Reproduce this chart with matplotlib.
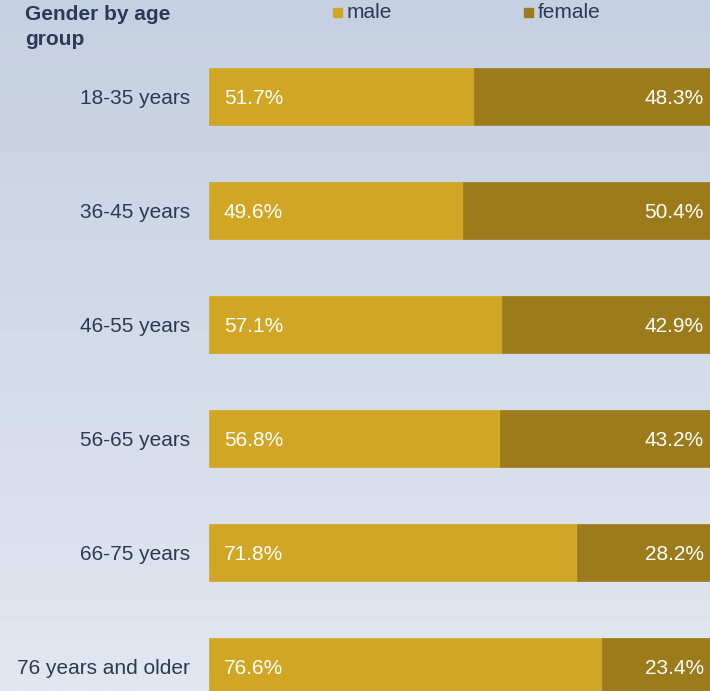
import matplotlib.pyplot as plt
import numpy as np
from matplotlib.patches import Rectangle

plt.rcParams["font.family"] = ["Liberation Sans", "DejaVu Sans"]

groups = ["18-35 years", "36-45 years", "46-55 years", "56-65 years",
          "66-75 years", "76 years and older"]
male = [51.7, 49.6, 57.1, 56.8, 71.8, 76.6]
female = [48.3, 50.4, 42.9, 43.2, 28.2, 23.4]

c_male = "#D0A624"
c_female = "#9C7B1B"
c_text = "#2B3A55"
fs = 15

W, H = 710, 691
fig = plt.figure(figsize=(W / 100, H / 100), dpi=100)

# soft vertical gradient behind everything
bg = fig.add_axes([0, 0, 1, 1], zorder=-10)
top = np.array([0xC5, 0xD0, 0xE2]) / 255
bot = np.array([0xE2, 0xE7, 0xF0]) / 255
t = np.linspace(0, 1, 256)[:, None]
grad = top * (1 - t)[..., None] + bot * t[..., None]
bg.imshow(grad, aspect="auto", extent=[0, 1, 0, 1])
bg.axis("off")

# bar area (runs slightly past the right edge)
ax = fig.add_axes([209 / W, 0, 513 / W, (H - 39.5) / H])
ax.set_facecolor("none")
y = np.arange(len(groups))
ax.barh(y, male, height=0.5, color=c_male, edgecolor=c_male, lw=0.5)
ax.barh(y, female, left=male, height=0.5, color=c_female, edgecolor=c_female, lw=0.5)
ax.set_xlim(0, 100)
ax.set_ylim(5 + (H - 666.5) / 114, -0.5)
ax.axis("off")

for i, (m, f) in enumerate(zip(male, female)):
    ax.annotate(f"{m:.1f}%", xy=(0, i), xytext=(15, -1.5), textcoords="offset pixels",
                color="white", fontsize=fs, va="center", ha="left")
    ax.annotate(f"{f:.1f}%", xy=(0, i), xytext=(704 - 209, -1.5), textcoords="offset pixels",
                color="white", fontsize=fs, va="center", ha="right")
    ax.annotate(groups[i], xy=(0, i), xytext=(-19, -1.5),
                textcoords="offset pixels", ha="right", va="center",
                fontsize=fs, color=c_text, annotation_clip=False)

fig.text(25 / W, 1 - 5 / H, "Gender by age\ngroup", fontsize=fs, fontweight="bold",
         color=c_text, ha="left", va="top", linespacing=1.4)

# legend
for x0, lab, col in [(333, "male", c_male), (524, "female", c_female)]:
    fig.patches.append(Rectangle((x0 / W, 1 - 17 / H), 9 / W, 9 / H,
                                 transform=fig.transFigure, color=col))
    fig.text((x0 + 14) / W, 1 - 12 / H, lab, fontsize=fs, color=c_text,
             ha="left", va="center")

fig.savefig("out.png", dpi=100)
